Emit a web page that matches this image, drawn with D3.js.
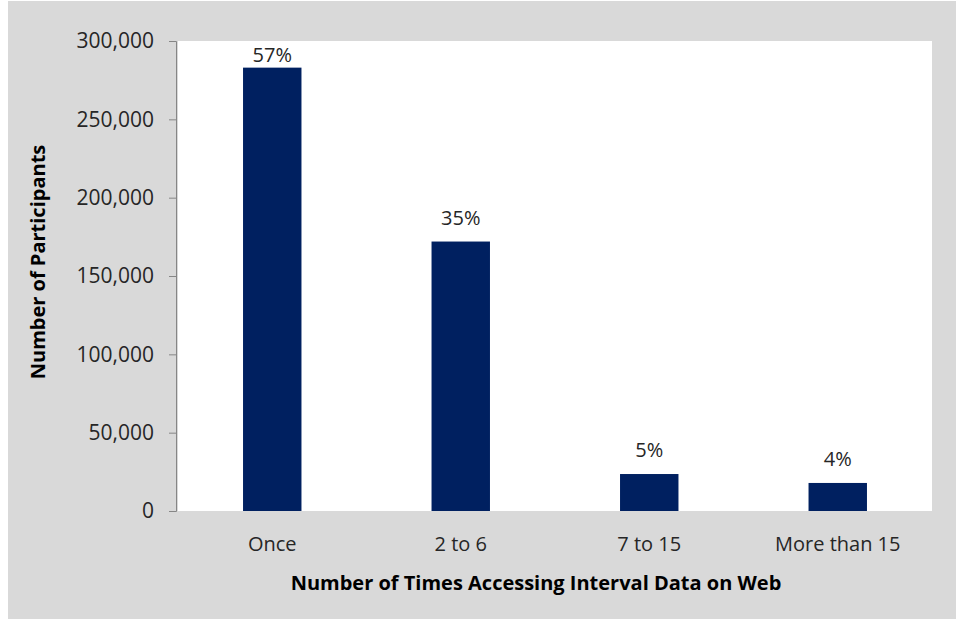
<!DOCTYPE html>
<html>
<head>
<meta charset="utf-8">
<script src="https://cdn.jsdelivr.net/npm/d3@7"></script>
<style>
  body { margin: 0; background: #fff; }
  text { font-family: "Open Sans", sans-serif; }
</style>
</head>
<body>
<div id="chart"></div>
<script>
// data
const categories = ["Once", "2 to 6", "7 to 15", "More than 15"];
const participants = [283000, 172000, 23600, 17900];
const shares = ["57%", "35%", "5%", "4%"];
const yTicks = [0, 50000, 100000, 150000, 200000, 250000, 300000];

const width = 956, height = 619;
const plot = { left: 178, right: 932, top: 41, bottom: 511 };

const svg = d3.select("#chart")
  .append("svg")
  .attr("width", width)
  .attr("height", height);

// grey chart background
svg.append("rect")
  .attr("x", 8).attr("y", 1)
  .attr("width", width - 8).attr("height", height - 1)
  .attr("fill", "#d9d9d9");

// white plot area
svg.append("rect")
  .attr("x", plot.left).attr("y", plot.top)
  .attr("width", plot.right - plot.left)
  .attr("height", plot.bottom - plot.top)
  .attr("fill", "#fff");

const xScale = d3.scaleBand()
  .domain(categories)
  .range([plot.left, plot.right])
  .paddingInner(0.69)
  .paddingOuter(0.345);

const yScale = d3.scaleLinear()
  .domain([0, 300000])
  .range([plot.bottom, plot.top]);

// y axis
const yAxis = svg.append("g")
  .attr("transform", `translate(${plot.left - 2},0)`)
  .call(d3.axisLeft(yScale).tickValues(yTicks).tickFormat(d3.format(",")).tickSize(7).tickPadding(15));

yAxis.select(".domain").attr("stroke", "#868686");
yAxis.selectAll(".tick line").attr("stroke", "#868686");
yAxis.selectAll(".tick text")
  .attr("fill", "#262626")
  .attr("font-size", "21px")
  .attr("font-family", "Open Sans, sans-serif");

// bars
const data = categories.map((c, i) => ({ cat: c, val: participants[i], pct: shares[i] }));

svg.append("g").selectAll("rect")
  .data(data)
  .join("rect")
  .attr("x", d => xScale(d.cat))
  .attr("y", d => yScale(d.val))
  .attr("width", xScale.bandwidth())
  .attr("height", d => yScale(0) - yScale(d.val))
  .attr("fill", "#002060");

// percentage labels (kept inside the plot at the top)
svg.append("g").selectAll("text")
  .data(data)
  .join("text")
  .attr("x", d => xScale(d.cat) + xScale.bandwidth() / 2)
  .attr("y", d => Math.max(plot.top + 21, yScale(d.val) - 17))
  .attr("text-anchor", "middle")
  .attr("font-size", "20px")
  .attr("fill", "#262626")
  .text(d => d.pct);

// category labels
svg.append("g").selectAll("text")
  .data(categories)
  .join("text")
  .attr("x", d => xScale(d) + xScale.bandwidth() / 2)
  .attr("y", 551)
  .attr("text-anchor", "middle")
  .attr("font-size", "20px")
  .attr("fill", "#262626")
  .text(d => d);

// axis titles
svg.append("text")
  .attr("x", 536)
  .attr("y", 590)
  .attr("text-anchor", "middle")
  .attr("font-size", "20px")
  .attr("font-weight", "bold")
  .attr("fill", "#000")
  .text("Number of Times Accessing Interval Data on Web");

svg.append("text")
  .attr("transform", "translate(45,262) rotate(-90)")
  .attr("text-anchor", "middle")
  .attr("font-size", "20px")
  .attr("font-weight", "bold")
  .attr("fill", "#000")
  .text("Number of Participants");
</script>
</body>
</html>
